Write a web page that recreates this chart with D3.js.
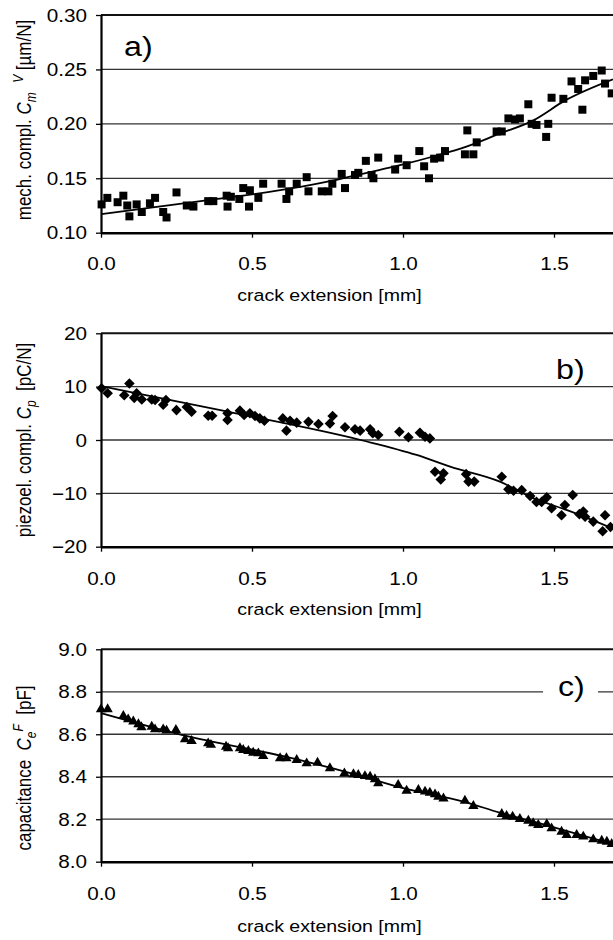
<html>

<script src="https://d3js.org/d3.v7.min.js"></script>

<style>
    body { margin: 0; background: white; }
    svg text { font-family: "Liberation Sans", Arial, sans-serif; fill: black; white-space: pre; }
</style>

<svg width=613 height=940></svg>

<script>

    // a) mechanical compliance vs crack extension
    let crackA = [0.002, 0.021, 0.055, 0.074, 0.087, 0.094, 0.118, 0.135, 0.162, 0.179,
        0.206, 0.217, 0.250, 0.284, 0.306, 0.355, 0.372, 0.416, 0.419, 0.430,
        0.458, 0.471, 0.490, 0.493, 0.521, 0.537, 0.598, 0.614, 0.623, 0.648,
        0.681, 0.687, 0.731, 0.753, 0.766, 0.797, 0.808, 0.841, 0.852, 0.877,
        0.896, 0.902, 0.918, 0.974, 0.984, 1.012, 1.054, 1.070, 1.086, 1.103,
        1.123, 1.139, 1.205, 1.213, 1.233, 1.244, 1.310, 1.327, 1.349, 1.371,
        1.387, 1.415, 1.426, 1.442, 1.474, 1.481, 1.492, 1.531, 1.558, 1.580,
        1.594, 1.603, 1.630, 1.658, 1.669, 1.691];
    let complA = [0.126, 0.132, 0.128, 0.134, 0.125, 0.115, 0.126, 0.119, 0.127, 0.132,
        0.119, 0.114, 0.137, 0.125, 0.124, 0.129, 0.129, 0.134, 0.124, 0.133,
        0.131, 0.141, 0.124, 0.139, 0.132, 0.145, 0.145, 0.131, 0.138, 0.145,
        0.151, 0.138, 0.138, 0.138, 0.145, 0.154, 0.141, 0.153, 0.155, 0.166,
        0.153, 0.150, 0.169, 0.158, 0.168, 0.162, 0.175, 0.161, 0.150, 0.168,
        0.169, 0.175, 0.172, 0.194, 0.172, 0.183, 0.193, 0.193, 0.205, 0.204,
        0.205, 0.218, 0.200, 0.199, 0.188, 0.200, 0.224, 0.223, 0.239, 0.232,
        0.213, 0.240, 0.244, 0.249, 0.237, 0.228];
    let fitAx = [0, 0.33, 0.66, 0.77, 0.88, 0.99, 1.10, 1.21, 1.32, 1.43, 1.54, 1.695];
    let fitAy = [0.117, 0.129, 0.142, 0.148, 0.155, 0.162, 0.170, 0.179, 0.191, 0.203, 0.222, 0.241];

    // b) piezoelectric compliance
    let crackB = [0.002, 0.022, 0.077, 0.094, 0.110, 0.118, 0.135, 0.168, 0.179, 0.206,
        0.215, 0.250, 0.284, 0.300, 0.355, 0.368, 0.419, 0.419, 0.460, 0.474,
        0.493, 0.510, 0.526, 0.541, 0.602, 0.614, 0.626, 0.648, 0.687, 0.720,
        0.758, 0.767, 0.808, 0.841, 0.858, 0.891, 0.900, 0.918, 0.988, 1.018,
        1.056, 1.073, 1.089, 1.106, 1.125, 1.134, 1.209, 1.217, 1.236, 1.327,
        1.349, 1.366, 1.393, 1.421, 1.442, 1.459, 1.476, 1.492, 1.525, 1.536,
        1.562, 1.584, 1.597, 1.603, 1.630, 1.661, 1.669, 1.687];
    let complB = [9.7, 8.75, 8.4, 10.6, 7.9, 8.75, 7.6, 7.6, 7.5, 6.6,
        7.5, 5.6, 6.2, 5.3, 4.55, 4.55, 5.0, 3.75, 5.5, 4.7,
        5.0, 4.5, 4.05, 3.6, 4.05, 1.75, 3.6, 3.25, 3.4, 3.0,
        3.1, 4.5, 2.4, 2.0, 1.75, 2.0, 1.25, 0.93, 1.55, 0.5,
        1.35, 0.6, 0.3, -5.95, -7.4, -6.25, -6.4, -7.8, -7.8, -6.9,
        -9.25, -9.5, -9.4, -10.5, -11.6, -11.6, -10.75, -12.8, -14.1, -12.2,
        -10.3, -13.9, -13.4, -14.4, -15.3, -17.1, -14.1, -16.3];
    let fitBx = [0, 0.42, 0.86, 1.045, 1.156, 1.321, 1.431, 1.541, 1.695];
    let fitBy = [10.1, 5.3, 0, -2.8, -5.0, -7.8, -10.9, -13.1, -16.6];

    // c) capacitance
    let crackC = [0.0, 0.022, 0.074, 0.090, 0.107, 0.124, 0.134, 0.168, 0.179, 0.206,
        0.217, 0.248, 0.278, 0.300, 0.355, 0.364, 0.414, 0.421, 0.460, 0.471,
        0.488, 0.504, 0.521, 0.537, 0.593, 0.614, 0.648, 0.681, 0.717, 0.758,
        0.806, 0.836, 0.852, 0.874, 0.891, 0.907, 0.918, 0.984, 1.012, 1.051,
        1.073, 1.089, 1.106, 1.117, 1.134, 1.205, 1.233, 1.327, 1.343, 1.363,
        1.387, 1.415, 1.431, 1.448, 1.476, 1.492, 1.525, 1.542, 1.575, 1.597,
        1.630, 1.658, 1.675, 1.691];
    let capC = [8.718, 8.718, 8.686, 8.670, 8.660, 8.647, 8.633, 8.635, 8.623, 8.623,
        8.617, 8.620, 8.576, 8.568, 8.557, 8.550, 8.541, 8.534, 8.534, 8.526,
        8.521, 8.513, 8.510, 8.498, 8.487, 8.487, 8.479, 8.463, 8.466, 8.440,
        8.416, 8.412, 8.408, 8.403, 8.400, 8.388, 8.369, 8.361, 8.334, 8.338,
        8.330, 8.325, 8.317, 8.306, 8.298, 8.287, 8.262, 8.225, 8.215, 8.212,
        8.201, 8.193, 8.181, 8.173, 8.177, 8.157, 8.141, 8.126, 8.126, 8.118,
        8.105, 8.099, 8.094, 8.083];
    let fitCx = [0, 0.3, 0.6, 0.85, 1.0, 1.2, 1.32, 1.5, 1.695];
    let fitCy = [8.70, 8.586, 8.498, 8.408, 8.346, 8.283, 8.231, 8.162, 8.083];

    let xTicks = [0, 0.5, 1.0, 1.5];
    let yTicksA = [0.10, 0.15, 0.20, 0.25, 0.30];
    let yTicksB = [-20, -10, 0, 10, 20];
    let yTicksC = [8.0, 8.2, 8.4, 8.6, 8.8, 9.0];

    let svg = d3.select('svg');
    const sx = 1.15;   // the scan is a little stretched sideways, text too
    const xLabel = 'crack extension [mm]';

    function panel(p) {
        let g = svg.append('g');
        let x = d3.scaleLinear().domain([0, 1.7]).range([101, 614.4]);
        let y = d3.scaleLinear().domain(d3.extent(p.yTicks)).range([p.bottom, p.top]);

        // inner gridlines
        g.selectAll('.grid')
            .data(p.yTicks.slice(1, -1))
          .enter().append('line')
            .attr('x1', x.range()[0]).attr('x2', x.range()[1])
            .attr('y1', d => y(d)).attr('y2', d => y(d))
            .attr('stroke', '#333').attr('stroke-width', 1.3);
        // top line is heavier
        g.append('line')
            .attr('x1', x.range()[0]).attr('x2', x.range()[1])
            .attr('y1', p.top).attr('y2', p.top)
            .attr('stroke', '#111').attr('stroke-width', 2);

        let yAxis = d3.axisLeft(y).tickValues(p.yTicks).tickFormat(p.fmt).tickSize(5).tickSizeOuter(0);
        let ya = g.append('g').attr('transform', 'translate(101,0)').call(yAxis)
            .attr('font-size', 18).attr('font-family', null);
        ya.select('.domain').attr('stroke-width', 2.2);
        ya.selectAll('.tick line').attr('stroke-width', 1.3);
        ya.selectAll('text').attr('x', 0).attr('dy', '0.34em')
            .attr('transform', 'translate(-14,0) scale(' + sx + ',1)');

        let xAxis = d3.axisBottom(x).tickValues(xTicks).tickFormat(d3.format('.1f')).tickSize(5).tickSizeOuter(0);
        let xa = g.append('g').attr('transform', 'translate(0,' + p.bottom + ')').call(xAxis)
            .attr('font-size', 18).attr('font-family', null);
        xa.select('.domain').attr('stroke-width', 2.6);
        xa.selectAll('.tick line').attr('stroke-width', 1.3);
        xa.selectAll('text').attr('y', 0).attr('dy', 0)
            .attr('transform', 'translate(0,' + p.tickY + ') scale(' + sx + ',1)');

        g.append('text')
            .attr('transform', 'translate(329.5,' + (p.bottom + p.titleY) + ') scale(' + sx + ',1)')
            .attr('text-anchor', 'middle').attr('font-size', 17)
            .text(xLabel);

        // rotated y label with sub/superscripts
        let yl = g.append('text')
            .attr('transform', 'translate(31,' + p.labelY + ') rotate(-90) scale(1,' + sx + ')')
            .attr('text-anchor', 'middle').attr('font-size', 17);
        let shift = 0;
        p.ylabel.forEach(s => {
            let sh = s.sub ? 4 : s.sup ? -7 : 0;
            yl.append('tspan')
                .attr('dy', sh - shift)
                .attr('font-style', s.it ? 'italic' : null)
                .attr('font-size', (s.sub || s.sup) ? 12 : null)
                .text(s.t);
            shift = sh;
        });

        // fitted curve
        let line = d3.line().x(d => x(d[0])).y(d => y(d[1])).curve(d3.curveMonotoneX);
        g.append('path')
            .datum(p.fx.map((v, i) => [v, p.fy[i]]))
            .attr('d', line)
            .attr('fill', 'none').attr('stroke', 'black').attr('stroke-width', 1.8);

        // measured points
        g.selectAll('.pt')
            .data(p.px.map((v, i) => [v, p.py[i]]))
          .enter().append('path')
            .attr('d', d3.symbol(p.symbol, p.size))
            .attr('transform', d => 'translate(' + x(d[0]) + ',' + y(d[1]) + ') rotate(' + (p.rot || 0) + ')')
            .attr('fill', 'black');

        if (p.box) {
            g.append('rect').attr('x', p.box[0]).attr('y', p.box[1])
                .attr('width', p.box[2]).attr('height', p.box[3]).attr('fill', 'white');
        }
        g.append('text')
            .attr('transform', 'translate(' + p.tag[0] + ',' + p.tag[1] + ') scale(' + sx + ',1)')
            .attr('font-size', 28).attr('font-family', '"DejaVu Sans ExtraLight", "DejaVu Sans", sans-serif')
            .attr('font-weight', 200)
            .text(p.tag[2]);
    }

    panel({
        top: 15, bottom: 232.7, tickY: 37.5, titleY: 68, labelY: 120,
        yTicks: yTicksA, fmt: d3.format('.2f'),
        px: crackA, py: complA, fx: fitAx, fy: fitAy,
        symbol: d3.symbolSquare, size: 64,
        tag: [124, 56, 'a)'],
        ylabel: [{t: 'mech. compl. '}, {t: 'C', it: true}, {t: 'm', it: true, sub: true},
                 {t: '  '}, {t: 'V', it: true, sup: true}, {t: ' [µm/N]'}]
    });

    panel({
        top: 333.3, bottom: 546.7, tickY: 38.3, titleY: 68, labelY: 440,
        yTicks: yTicksB, fmt: d3.format('d'),
        px: crackB, py: complB, fx: fitBx, fy: fitBy,
        symbol: d3.symbolSquare, size: 56, rot: 45,
        tag: [556, 379, 'b)'],
        ylabel: [{t: 'piezoel. compl. '}, {t: 'C', it: true}, {t: 'p', it: true, sub: true},
                 {t: '  [pC/N]'}]
    });

    panel({
        top: 649.3, bottom: 861.7, tickY: 38.3, titleY: 70.5, labelY: 768,
        yTicks: yTicksC, fmt: d3.format('.1f'),
        px: crackC, py: capC, fx: fitCx, fy: fitCy,
        symbol: d3.symbolTriangle, size: 46,
        box: [543, 683, 55, 17],
        tag: [558, 696, 'c)'],
        ylabel: [{t: 'capacitance  '}, {t: 'C', it: true}, {t: 'e', it: true, sub: true},
                 {t: 'F', it: true, sup: true}, {t: '  [pF]'}]
    });

</script>
</html>
